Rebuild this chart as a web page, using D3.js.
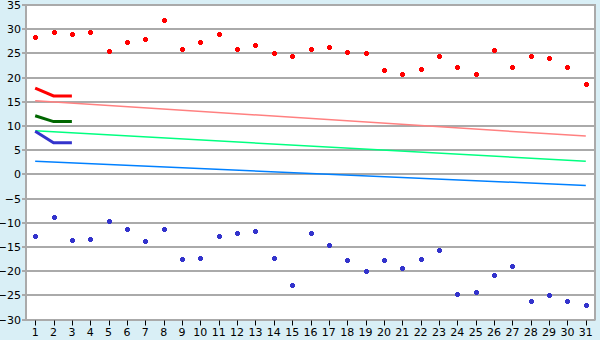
<!DOCTYPE html>
<html>
<head>
<meta charset="utf-8">
<script src="https://d3js.org/d3.v7.min.js"></script>
<style>
  body { margin: 0; background: #d9eff6; }
  svg { display: block; font-family: "DejaVu Sans", Verdana, sans-serif; }
  .grid line { stroke: #aaaaaa; }
  .axis text { font-size: 11px; fill: #000; }
</style>
</head>
<body>
<script>
// day numbers on the x axis
var days = d3.range(1, 32);

// scattered points
var redPoints = [28.3, 29.35, 29.0, 29.35, 25.4, 27.3, 27.9, 31.8, 26.0, 27.3,
                 29.0, 26.0, 26.7, 25.0, 24.4, 26.0, 26.25, 25.2, 25.0, 21.5,
                 20.7, 21.7, 24.4, 22.1, 20.7, 25.6, 22.1, 24.4, 24.0, 22.1, 18.6];
var bluePoints = [-12.75, -8.9, -13.6, -13.4, -9.7, -11.2, -13.85, -11.2, -17.4, -17.2,
                  -12.8, -12.2, -11.8, -17.2, -22.9, -12.2, -14.5, -17.8, -20.05, -17.8,
                  -19.4, -17.4, -15.7, -24.8, -24.4, -20.9, -19.0, -26.25, -25.0, -26.25, -26.9];

// trend lines: value at day 1 and day 31
var redTrend = [15.2, 7.9];
var greenTrend = [9.0, 2.7];
var blueTrend = [2.7, -2.3];

// short thick lines on days 1..3
var redShort = [17.8, 16.2, 16.2];
var greenShort = [12.1, 10.9, 10.9];
var blueShort = [8.9, 6.55, 6.55];

var yTicks = d3.range(-30, 36, 5);

var W = 600, H = 340;
var pLeft = 26, pRight = 595, pTop = 5, pBottom = 319.5;

var svg = d3.select("body").append("svg")
    .attr("width", W)
    .attr("height", H);

var x = d3.scaleBand().domain(days).range([pLeft, pRight]);
var xc = function(d) { return x(d) + x.bandwidth() / 2; };
var y = d3.scaleLinear().domain([-30, 35]).range([pBottom, pTop]);

// plot background
svg.append("rect")
    .attr("x", pLeft).attr("y", pTop)
    .attr("width", pRight - pLeft).attr("height", pBottom - pTop)
    .attr("fill", "#ffffff");

// horizontal grid
svg.append("g").attr("class", "grid")
    .selectAll("line").data(yTicks).enter().append("line")
    .attr("x1", pLeft - 4).attr("x2", pRight)
    .attr("y1", function(d) { return Math.round(y(d)); })
    .attr("y2", function(d) { return Math.round(y(d)); })
    .attr("stroke-width", 2);

// frame: left axis and right border
svg.append("line")
    .attr("x1", pLeft).attr("x2", pLeft)
    .attr("y1", pTop - 1).attr("y2", pBottom + 1)
    .attr("stroke", "#aaaaaa").attr("stroke-width", 2);
svg.append("line")
    .attr("x1", pRight).attr("x2", pRight)
    .attr("y1", pTop - 1).attr("y2", pBottom + 1)
    .attr("stroke", "#aaaaaa").attr("stroke-width", 2);

// y labels
svg.append("g").attr("class", "axis")
    .selectAll("text").data(yTicks).enter().append("text")
    .attr("x", pLeft - 5)
    .attr("y", function(d) { return y(d) + 4; })
    .attr("text-anchor", "end")
    .text(function(d) { return d < 0 ? "\u2212" + Math.abs(d) : d; });

// x ticks and labels
var xa = svg.append("g").attr("class", "axis");
xa.selectAll("line").data(days).enter().append("line")
    .attr("x1", function(d) { return Math.round(xc(d)) + 0.5; })
    .attr("x2", function(d) { return Math.round(xc(d)) + 0.5; })
    .attr("y1", pBottom + 1).attr("y2", pBottom + 6)
    .attr("stroke", "#000").attr("stroke-width", 1);
xa.selectAll("text").data(days).enter().append("text")
    .attr("x", function(d) { return xc(d); })
    .attr("y", 336)
    .attr("text-anchor", "middle")
    .text(function(d) { return d; });

// trend lines
function trend(vals, color) {
    svg.append("line")
        .attr("x1", xc(days[0])).attr("x2", xc(days[days.length - 1]))
        .attr("y1", y(vals[0])).attr("y2", y(vals[1]))
        .attr("stroke", color).attr("stroke-width", 1.5);
}
trend(redTrend, "#ff8080");
trend(greenTrend, "#00ff80");
trend(blueTrend, "#0080ff");

// short thick lines
var line = d3.line()
    .x(function(d, i) { return xc(days[i]); })
    .y(function(d) { return y(d); });
function shortLine(vals, color) {
    svg.append("path")
        .attr("d", line(vals))
        .attr("fill", "none")
        .attr("stroke", color).attr("stroke-width", 3);
}
shortLine(redShort, "#ff0000");
shortLine(greenShort, "#006600");
shortLine(blueShort, "#3333cc");

// point markers (small plus with a thick centre)
var marker = "M-1.5,-2.5H1.5V-1.5H2.5V1.5H1.5V2.5H-1.5V1.5H-2.5V-1.5H-1.5Z";
function points(vals, color) {
    svg.append("g").selectAll("path").data(vals).enter().append("path")
        .attr("d", marker)
        .attr("transform", function(d, i) {
            return "translate(" + (Math.round(xc(days[i])) + 0.5) + "," + (Math.round(y(d)) + 0.5) + ")";
        })
        .attr("fill", color);
}
points(redPoints, "#ff0000");
points(bluePoints, "#3333cc");
</script>
</body>
</html>
